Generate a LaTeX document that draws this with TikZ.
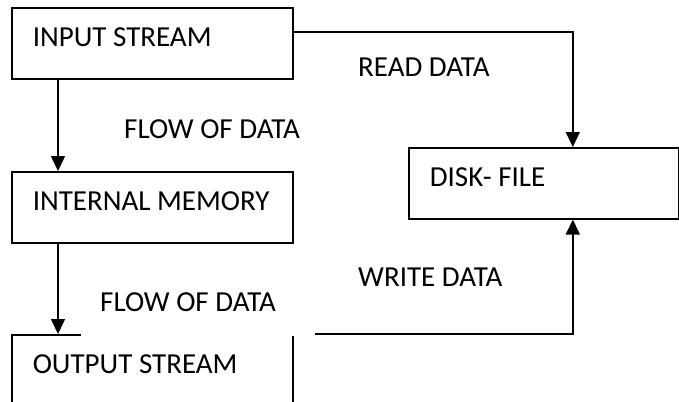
\documentclass[tikz,border=0pt]{standalone}
\usepackage{fontspec}
\setmainfont{Carlito}
\usetikzlibrary{arrows.meta}
\begin{document}
\begin{tikzpicture}[x=1pt,y=-1pt,
  font=\fontsize{29}{35}\selectfont,
  box/.style={draw, line width=1.6pt, anchor=north west, inner xsep=21pt, inner ysep=0pt,
    text width=239pt, align=flush left, minimum height=71pt, text height=18.5pt, text depth=11.5pt},
  lbl/.style={anchor=west, inner sep=0pt},
  conn/.style={line width=1.6pt, -{Triangle[width=14pt,length=15pt]}}]
\useasboundingbox (0,0) rectangle (679,401);
\clip (0,0) rectangle (679,401);
\node[box] (in) at (11,7) {INPUT STREAM};
\node[box] (mem) at (11,171) {INTERNAL MEMORY};
\node[box] (out) at (11,334) {OUTPUT STREAM};
\node[box, text width=228pt] (disk) at (408,147) {DISK- FILE};
\draw[conn] ([xshift=47pt]in.south west) -- ([xshift=47pt]mem.north west);
\draw[conn] ([xshift=47pt]mem.south west) -- ([xshift=47pt]out.north west);
\draw[conn] ([yshift=11.5pt]in.east) -| ([xshift=29pt]disk.north);
\draw[conn] (out.north east) -| ([xshift=29pt]disk.south);
\node[lbl] (l1) at (124,129) {FLOW OF DATA};
\node[lbl] (l2) at (358,67) {READ DATA};
\node[lbl] (l3) at (358,277) {WRITE DATA};
\node[anchor=west, fill=white, inner xsep=19pt, inner ysep=0pt, text width=196pt, align=flush left,
  minimum height=68pt] (l4) at (81,302) {FLOW OF DATA};
\end{tikzpicture}
\end{document}
